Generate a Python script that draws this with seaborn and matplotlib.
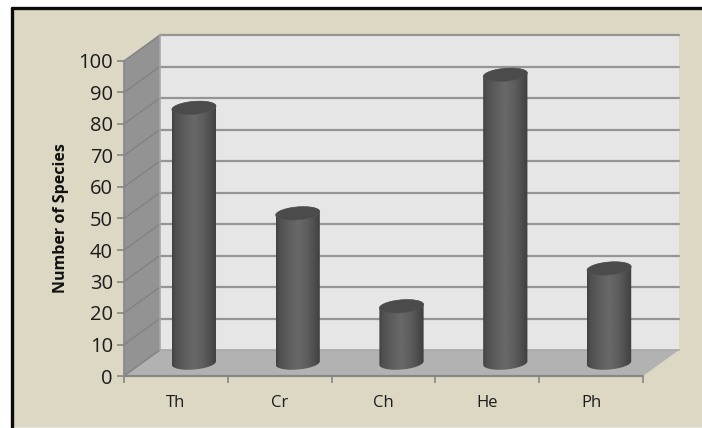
import numpy as np
import pandas as pd
import matplotlib
matplotlib.use("Agg")
import matplotlib.pyplot as plt
from matplotlib.patches import Polygon, PathPatch
from matplotlib.path import Path
from matplotlib.transforms import Affine2D
import seaborn as sns

categories = ["Th", "Cr", "Ch", "He", "Ph"]
species = [81, 47.5, 18, 91.5, 30]
y_ticks = list(range(0, 101, 10))

W, H = 702, 428
sns.set_theme(style="white")
plt.rcParams["font.family"] = ["Open Sans", "DejaVu Sans"]

fig = plt.figure(figsize=(W / 100, H / 100), dpi=100, facecolor="white")
px = Affine2D().scale(1, -1).translate(0, H)  # pixel coordinates, origin top-left

# Front plane of the chart box
L, R, T, B = 124, 643, 61, 376
DX, DY = 36, 26
ax = fig.add_axes([L / W, 1 - B / H, (R - L) / W, (B - T) / H])
ax.patch.set_alpha(0)
for s in ax.spines.values():
    s.set_visible(False)


def add(poly, color):
    fig.add_artist(Polygon(poly, closed=True, transform=px, clip_on=False, fc=color, ec="none", zorder=-4))


def seg(xs, ys, color, lw):
    fig.add_artist(plt.Line2D(xs, ys, transform=px, color=color, lw=lw, zorder=-3))


# Panel with its black frame on the top and left sides
fig.add_artist(plt.Rectangle((12, 8), W, H - 9, transform=px, fc="#ddd8c4", ec="none", zorder=-5))
seg([12, W], [8, 8], "#0c0c0c", 2.4)
seg([12, 12], [8, H], "#0c0c0c", 2.4)
seg([13, W], [H - 0.5, H - 0.5], "#77776a", 1.0)

add([(L + DX, T - DY), (R + DX, T - DY), (R + DX, B - DY), (L + DX, B - DY)], "#e6e6e6")
add([(L, T), (L + DX, T - DY), (L + DX, B - DY), (L, B)], "#939393")
add([(L, B), (L + DX, B - DY), (R + DX, B - DY), (R, B)], "#b2b2b2")

scale = (B - T) / 100
for v in y_ticks:
    yf = B - v * scale
    if v > 0:
        seg([L + DX, R + DX], [yf - DY] * 2, "#959595", 1.6)
    seg([L, L + DX], [yf, yf - DY], "#828282", 1.0)
seg([L + DX, L + DX, R + DX], [T - DY, B - DY, B - DY], "#a8a8a8", 1.2)
seg([L, L], [T, B], "#868686", 1.2)
seg([L, R], [B, B], "#868686", 1.6)

# Columns: seaborn sets out the bars, each is then rendered as a shaded cylinder
df = pd.DataFrame({"category": categories, "species": species})
sns.barplot(data=df, x="category", y="species", color="#4a4a4a", width=0.42, saturation=1, ax=ax)
ax.set_xlim(-0.5, 4.5)
ax.set_ylim(0, 100)

shade = np.interp(np.linspace(0, 1, 64), [0, 0.07, 0.3, 0.5, 0.72, 0.93, 1],
                  [0.26, 0.31, 0.37, 0.41, 0.36, 0.28, 0.25])
grad = np.tile(shade, (2, 1))
tilt = np.deg2rad(-5)
to_px = ax.transData + px.inverted()


def ring(cx, cy, a, b, t):
    x, y = a * np.cos(t), b * np.sin(t)
    return np.c_[cx + x * np.cos(tilt) - y * np.sin(tilt), cy + x * np.sin(tilt) + y * np.cos(tilt)]


for patch in list(ax.patches):
    x0, w, h = patch.get_x(), patch.get_width(), patch.get_height()
    (xl, ybase), (xr, ytop) = to_px.transform([(x0, 0), (x0 + w, h)])
    cx, a = (xl + xr) / 2 + DX / 2, (xr - xl) / 2 + 0.4
    bottom_y, top_y = ybase - DY / 2, ytop - DY / 2
    b = 6.5
    patch.set_visible(False)
    upper = ring(cx, top_y, a, b, np.linspace(np.pi, 2 * np.pi, 40))
    lower = ring(cx, bottom_y, a, b, np.linspace(0, np.pi, 40))
    outline = np.vstack([upper, lower, upper[:1]])
    im = ax.imshow(grad, cmap="gray", vmin=0, vmax=1, aspect="auto", transform=px,
                   extent=(cx - a, cx + a, bottom_y + 10, top_y - 10), zorder=3, interpolation="bilinear")
    im.set_clip_path(PathPatch(Path(outline), transform=px))
    cap = ring(cx, top_y, a, b, np.linspace(0, 2 * np.pi, 80))
    ax.add_patch(Polygon(cap, closed=True, transform=px, fc="#4b4b4b", ec="#565656", lw=0.4, zorder=4, clip_on=False))
ax.set_xlim(-0.5, 4.5)
ax.set_ylim(0, 100)

ax.set_xlabel("")
ax.set_ylabel("Number of Species", fontsize=11.5, fontweight="bold", color="#111111")
ax.yaxis.set_label_coords((69 - L) / (R - L), 0.5)
ax.set_yticks(y_ticks)
ax.tick_params(axis="y", length=5, width=1.2, color="#868686", labelsize=14.5, labelcolor="#1c1c1c", pad=3, left=True)
ax.set_xticks(range(5), categories)
ax.tick_params(axis="x", length=0, labelsize=12, labelcolor="#1c1c1c", pad=14)
ax.set_xticks(np.arange(-0.5, 5), minor=True)
ax.tick_params(axis="x", which="minor", length=5, width=1.2, color="#868686", bottom=True)

fig.savefig("out.png", dpi=100)
